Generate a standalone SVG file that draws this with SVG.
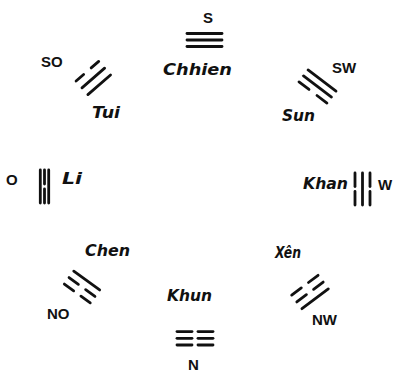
<svg xmlns="http://www.w3.org/2000/svg" width="399" height="374" viewBox="0 0 399 374">
<style>
.ln{stroke:#111;stroke-width:2.8;stroke-linecap:round;fill:none}
.cp{font-family:"Liberation Sans",Arial,sans-serif;font-weight:bold;font-size:15px;fill:#111}
.nm{font-family:"DejaVu Sans","Liberation Sans",sans-serif;font-weight:bold;font-style:oblique;font-size:16px;fill:#111}
</style>
<rect width="399" height="374" fill="#fff"/>
<g id="connectors"/>
<g id="chhien">
<g transform="translate(204.5,40)">
<line class="ln" x1="-17.5" y1="-6.5" x2="17.5" y2="-6.5"/>
<line class="ln" x1="-17.5" y1="0" x2="17.5" y2="0"/>
<line class="ln" x1="-17.5" y1="6.5" x2="17.5" y2="6.5"/>
</g>
<text class="cp" x="203" y="23">S</text>
<text class="nm" x="163" y="75" textLength="69" lengthAdjust="spacingAndGlyphs">Chhien</text>
</g>
<g id="tui">
<g transform="translate(93.3,78) rotate(-41)">
<line class="ln" x1="-15" y1="-9" x2="-5" y2="-9"/>
<line class="ln" x1="5" y1="-9" x2="15" y2="-9"/>
<line class="ln" x1="-15" y1="0" x2="15" y2="0"/>
<line class="ln" x1="-15" y1="9" x2="15" y2="9"/>
</g>
<text class="cp" x="41" y="67">SO</text>
<text class="nm" x="92" y="118" textLength="28" lengthAdjust="spacingAndGlyphs">Tui</text>
</g>
<g id="sun">
<g transform="translate(317.5,86.5) rotate(37)">
<line class="ln" x1="-17.5" y1="-7.5" x2="17.5" y2="-7.5"/>
<line class="ln" x1="-17.5" y1="0" x2="17.5" y2="0"/>
<line class="ln" x1="-17.5" y1="7.5" x2="-5" y2="7.5"/>
<line class="ln" x1="5" y1="7.5" x2="17.5" y2="7.5"/>
</g>
<text class="cp" x="332" y="73">SW</text>
<text class="nm" x="282" y="121" textLength="33" lengthAdjust="spacingAndGlyphs">Sun</text>
</g>
<g id="li">
<g transform="translate(44.5,186.5) rotate(-90)">
<line class="ln" x1="-16.5" y1="-4.2" x2="16.5" y2="-4.2"/>
<line class="ln" x1="-16.5" y1="0" x2="-2.5" y2="0"/>
<line class="ln" x1="2.5" y1="0" x2="16.5" y2="0"/>
<line class="ln" x1="-16.5" y1="4.2" x2="16.5" y2="4.2"/>
</g>
<text class="cp" x="6" y="185">O</text>
<text class="nm" x="62" y="184" textLength="20" lengthAdjust="spacingAndGlyphs">Li</text>
</g>
<g id="khan">
<g transform="translate(362.5,189) rotate(90)">
<line class="ln" x1="-16" y1="-7.5" x2="-2.5" y2="-7.5"/>
<line class="ln" x1="2.5" y1="-7.5" x2="16" y2="-7.5"/>
<line class="ln" x1="-16" y1="0" x2="16" y2="0"/>
<line class="ln" x1="-16" y1="7.5" x2="-2.5" y2="7.5"/>
<line class="ln" x1="2.5" y1="7.5" x2="16" y2="7.5"/>
</g>
<text class="cp" x="378" y="190">W</text>
<text class="nm" x="303" y="189" textLength="45" lengthAdjust="spacingAndGlyphs">Khan</text>
</g>
<g id="chen">
<g transform="translate(82,287) rotate(-144)">
<line class="ln" x1="-16" y1="-8" x2="-4.5" y2="-8"/>
<line class="ln" x1="4.5" y1="-8" x2="16" y2="-8"/>
<line class="ln" x1="-16" y1="0" x2="-4.5" y2="0"/>
<line class="ln" x1="4.5" y1="0" x2="16" y2="0"/>
<line class="ln" x1="-16" y1="8" x2="16" y2="8"/>
</g>
<text class="cp" x="47" y="319">NO</text>
<text class="nm" x="85" y="256" textLength="45" lengthAdjust="spacingAndGlyphs">Chen</text>
</g>
<g id="ken">
<g transform="translate(310,292) rotate(143)">
<line class="ln" x1="-16.5" y1="-8.5" x2="16.5" y2="-8.5"/>
<line class="ln" x1="-16.5" y1="0" x2="-4.5" y2="0"/>
<line class="ln" x1="4.5" y1="0" x2="16.5" y2="0"/>
<line class="ln" x1="-16.5" y1="8.5" x2="-4.5" y2="8.5"/>
<line class="ln" x1="4.5" y1="8.5" x2="16.5" y2="8.5"/>
</g>
<text class="cp" x="312" y="325">NW</text>
<text class="nm" x="275" y="258" textLength="26" lengthAdjust="spacingAndGlyphs">Xên</text>
</g>
<g id="khun">
<g transform="translate(195,338.3)">
<line class="ln" x1="-18" y1="-6.7" x2="-3" y2="-6.7"/>
<line class="ln" x1="3" y1="-6.7" x2="18" y2="-6.7"/>
<line class="ln" x1="-18" y1="0" x2="-3" y2="0"/>
<line class="ln" x1="3" y1="0" x2="18" y2="0"/>
<line class="ln" x1="-18" y1="6.7" x2="-3" y2="6.7"/>
<line class="ln" x1="3" y1="6.7" x2="18" y2="6.7"/>
</g>
<text class="cp" x="188" y="370">N</text>
<text class="nm" x="167" y="301" textLength="45" lengthAdjust="spacingAndGlyphs">Khun</text>
</g>
</svg>
